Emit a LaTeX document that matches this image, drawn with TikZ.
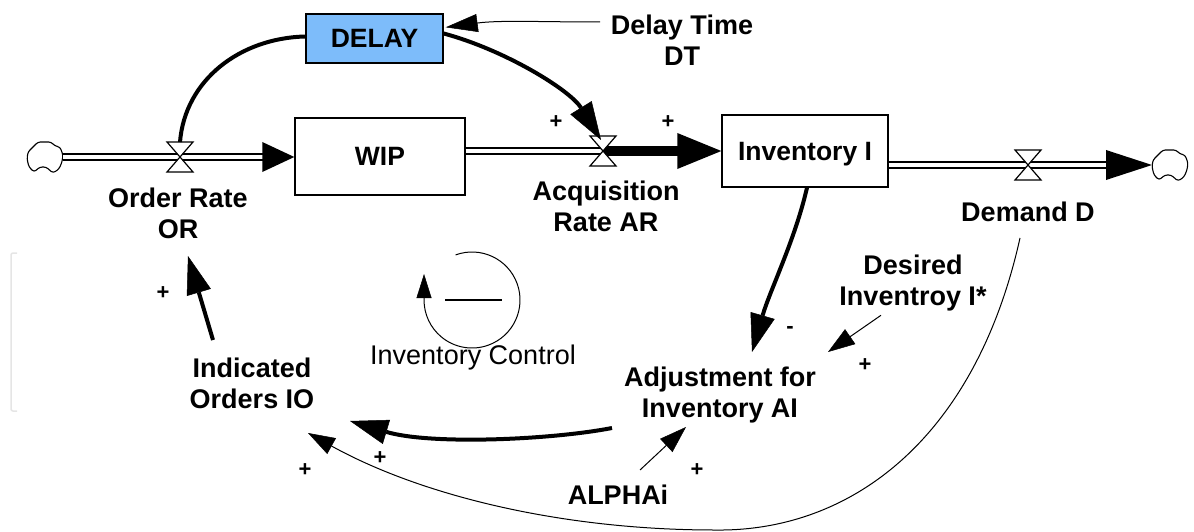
\documentclass[tikz,border=0pt]{standalone}
\usepackage{fontspec}
\setmainfont{Liberation Sans}
\usetikzlibrary{arrows.meta,calc}
\definecolor{delayblue}{RGB}{125,188,250}
\begin{document}
\begin{tikzpicture}[x=1pt,y=-1pt,
  lbl/.style={font=\bfseries\fontsize{27}{31}\selectfont, align=center, inner sep=0pt},
  sgn/.style={font=\bfseries\fontsize{22}{22}\selectfont, inner sep=0pt},
  stock/.style={draw, line width=1.4pt, font=\bfseries\fontsize{26.5}{31}\selectfont, inner sep=0pt, text depth=0pt},
  pipe/.style={double=white, double distance=4pt, line width=2pt},
  thick link/.style={line width=4pt, -{Triangle[length=38pt,width=25pt,line width=0.5pt]}},
  thin link/.style={line width=1pt, -{Triangle[length=27pt,width=18pt,line width=0.5pt]}},
  plain link/.style={line width=4pt},
  valve/.pic={\draw[fill=white, line width=1.2pt] (-13,-15) -- (13,-15) -- (0,0) -- cycle;
              \draw[fill=white, line width=1.2pt] (-13,15) -- (13,15) -- (0,0) -- cycle;},
  cloud/.pic={\draw[line width=1.1pt, rounded corners=2.5pt, fill=white]
     (-17,-5) -- (-12,-10) -- (-7,-15) -- (6,-15) -- (10,-11) -- (15,-10) -- (18,-2)
     -- (17,5) -- (14,12) -- (8,16) -- (1,10) -- (-5,10) -- (-11,15) -- (-16,10) -- (-18,2) -- cycle;}
]
\useasboundingbox (0,0) rectangle (1194,532);

% faint bracket
\draw[black!10, line width=1.5pt, rounded corners=2pt] (17,253) -- (11,253) -- (11,411) -- (17,411);

% stocks
\node[stock, fill=delayblue, minimum width=137, minimum height=49] (delay) at (374.5,38.5) {DELAY};
\node[stock, minimum width=170, minimum height=77] (wip) at (380,156.5) {WIP};
\node[stock, minimum width=166, minimum height=72] (inv) at (805,151) {Inventory I};

% clouds
\pic at (45,157) {cloud}; \coordinate (cloudL) at (63,157);
\pic at (1170,165) {cloud}; \coordinate (cloudR) at (1152,165);

% valve positions
\coordinate (orv) at (180,157);
\coordinate (arv) at (603,151);
\coordinate (dv) at (1028,165);

% pipes
\draw[pipe] (cloudL) -- ($(wip.west |- orv)+(-30,0)$);
\fill ($(wip.west |- orv)$) -- ++(-32,-15) -- ++(0,30) -- cycle;
\draw[pipe] (wip.east |- arv) -- (arv);
\draw[line width=10pt] (arv) -- ($(inv.west |- arv)+(-40,0)$);
\fill (inv.west |- arv) -- ++(-44,-18) -- ++(0,36) -- cycle;
\draw[pipe] (inv.east |- dv) -- ($(cloudR)+(-44,0)$);
\fill (cloudR) -- ++(-46,-15) -- ++(0,30) -- cycle;

\pic at (orv) {valve};
\pic at (arv) {valve};
\pic at (dv) {valve};

% labels
\node[lbl] (orl) at (178,213) {Order Rate\\OR};
\node[lbl] (arl) at (606,206) {Acquisition\\Rate AR};
\node[lbl] (dl) at (1028,212) {Demand D};
\node[lbl] (dt) at (682,40) {Delay Time\\DT};
\node[lbl] (dinv) at (913,283) {Desired\\Inventroy I*};
\node[lbl] (ai) at (720,395) {Adjustment for\\Inventory AI};
\node[lbl] (io) at (252,383) {Indicated\\Orders IO};
\node[lbl, font=\fontsize{27}{31}\selectfont] (ic) at (473,358) {Inventory Control};
\node[lbl] (alpha) at (618,495) {ALPHAi};

% connectors
\coordinate (dts) at (600,22);
\draw[line width=1pt, -{Triangle[length=32pt,width=18pt,line width=0.5pt]}]
  (dts) .. controls (540,22) and (500,20) .. ($(delay.north east)+(2,14)$);
\draw[plain link] ($(delay.west)+(0,-2)$) .. controls (240,38) and (185,80) .. ($(orv)+(0,-15)$);
\draw[thick link] ($(delay.east)+(0,-5)$) .. controls (505,50) and (570,90) .. ($(arv)+(-2,-11)$);
\draw[thick link] ($(inv.south)+(2,0)$) .. controls (795,240) and (770,290) .. (752,352);
\draw[thin link] ($(dinv.south)+(-32,4)$) -- (828,352);
\draw[thick link] (612,428) .. controls (550,440) and (430,445) .. (350,421);
\draw[thick link] (213,340) -- (188,256);
\draw[thin link] (640,470) -- (686,427);
\draw[thin link] (1020,238) .. controls (975,440) and (850,532) .. (715,530)
  .. controls (560,530) and (420,495) .. (308,433);

% loop symbol
\coordinate (loopc) at (472,300);
\draw[line width=1pt, -{Triangle[length=24pt,width=15pt,line width=0.5pt]}]
  (455.6,254.9) arc[start angle=-110, end angle=180, radius=48] -- ++(0,-26);
\draw[line width=2pt] (445,300) -- (502,300);

% signs
\node[sgn] at (556,122) {+};
\node[sgn] at (668,122) {+};
\node[sgn] at (163,293) {+};
\node[sgn] at (380,458) {+};
\node[sgn] at (305,470) {+};
\node[sgn] at (865,365) {+};
\node[sgn] at (697,470) {+};
\node[sgn] at (790,330) {-};
\end{tikzpicture}
\end{document}
